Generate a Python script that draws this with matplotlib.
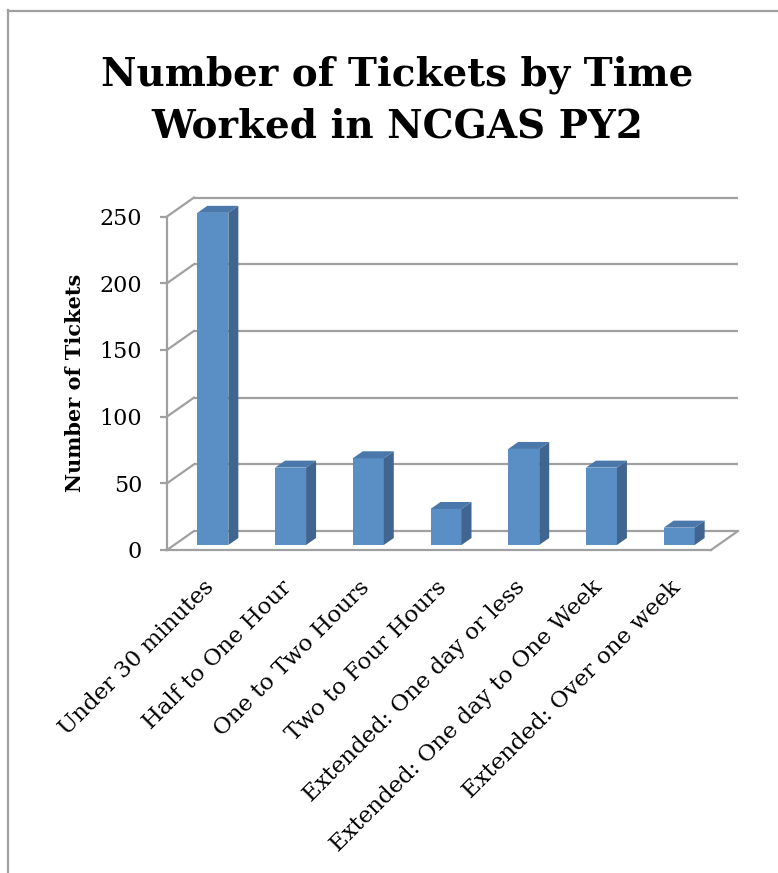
import matplotlib
matplotlib.use('Agg')
import matplotlib.pyplot as plt
from matplotlib.patches import Polygon
from matplotlib.transforms import ScaledTranslation
from matplotlib.lines import Line2D

categories = ["Under 30 minutes", "Half to One Hour", "One to Two Hours",
              "Two to Four Hours", "Extended: One day or less",
              "Extended: One day to One Week", "Extended: Over one week"]
tickets = [249, 58, 65, 27, 72, 58, 13]
y_ticks = [0, 50, 100, 150, 200, 250]
title_lines = ["Number of Tickets by Time", "Worked in NCGAS PY2"]
y_label = "Number of Tickets"

DPI = 100
W, H = 778, 873
FONT = ['DejaVu Serif']
GRID = '#a0a0a0'
FRONT = '#5a8fc6'
SIDE = '#3f6590'
TOP = '#4a78ab'

fig = plt.figure(figsize=(W / DPI, H / DPI), dpi=DPI)
fig.patch.set_facecolor('white')

# front plane of the 3-D box, in pixels
ax_l, ax_r, ax_b, ax_t = 167, 711, 550, 216.5
ax = fig.add_axes([ax_l / W, 1 - ax_b / H, (ax_r - ax_l) / W, (ax_b - ax_t) / H])
ax.set_xlim(-0.5, len(categories) - 0.5)
ax.set_ylim(0, 250)
ax.patch.set_alpha(0)


def off(dx, dy):
    return ax.transData + ScaledTranslation(dx / DPI, dy / DPI, fig.dpi_scale_trans)


p0 = ax.transData.transform((0, 0))
p1 = ax.transData.transform((1, 1))
ux = p1[0] - p0[0]
uy = p1[1] - p0[1]

BACK = (27, 19)   # back wall offset (px)
BARP = (7, 5)     # bar plane offset (px)
back = off(*BACK)
xlo, xhi = ax.get_xlim()
for v in y_ticks:
    ax.plot([xlo, xhi], [v, v], color=GRID, lw=1.6, transform=back,
            clip_on=False, zorder=1, solid_capstyle='butt')
    ax.plot([xlo, xlo + BACK[0] / ux], [v, v + BACK[1] / uy], color=GRID,
            lw=1.6, clip_on=False, zorder=1)
ax.plot([xhi, xhi + BACK[0] / ux], [0, BACK[1] / uy], color=GRID, lw=1.6,
        clip_on=False, zorder=1)

# bars
xs = list(range(len(categories)))
bw = 31 / ux
ddx = 10 / ux
ddy = 7 / uy
bt = off(*BARP)
bars = ax.bar(xs, tickets, width=bw, color=FRONT, linewidth=0, zorder=3)
for b in bars:
    b.set_transform(bt)
    b.set_clip_on(False)
for x, v in zip(xs, tickets):
    r = x + bw / 2
    l = x - bw / 2
    side = Polygon([(r, 0), (r + ddx, ddy), (r + ddx, v + ddy), (r, v)],
                   closed=True, facecolor=SIDE, edgecolor='none',
                   transform=bt, zorder=3, clip_on=False)
    top = Polygon([(l, v), (l + ddx, v + ddy), (r + ddx, v + ddy), (r, v)],
                  closed=True, facecolor=TOP, edgecolor='none',
                  transform=bt, zorder=3, clip_on=False)
    ax.add_patch(side)
    ax.add_patch(top)

ax.set_xlim(-0.5, len(categories) - 0.5)
ax.set_ylim(0, 250)

# spines / ticks
for s in ['top', 'right']:
    ax.spines[s].set_visible(False)
for s in ['left', 'bottom']:
    ax.spines[s].set_color(GRID)
    ax.spines[s].set_linewidth(1.6)
    ax.spines[s].set_zorder(4)
ax.set_yticks(y_ticks)
ax.set_yticklabels([str(t) for t in y_ticks], fontfamily=FONT, fontsize=16)
ax.tick_params(axis='y', direction='out', length=5, width=1.6, color=GRID,
               pad=13, labelcolor='black')
ax.set_xticks(xs)
ax.set_xticklabels(categories, fontfamily=FONT, fontsize=16.5, rotation=45,
                   ha='right', va='top', rotation_mode='anchor')
ax.tick_params(axis='x', length=0, pad=19)
for lab in ax.get_xticklabels():
    lab.set_transform(lab.get_transform() +
                      ScaledTranslation(-3 / DPI, 0, fig.dpi_scale_trans))

# title and y label
fig.text(397 / W, 1 - 85 / H, title_lines[0], ha='center', va='baseline',
         fontsize=28, fontweight='bold', fontfamily=FONT)
fig.text(397 / W, 1 - 138 / H, title_lines[1], ha='center', va='baseline',
         fontsize=28, fontweight='bold', fontfamily=FONT)
fig.text(75 / W, 1 - 383 / H, y_label, rotation=90, ha='center', va='center',
         fontsize=15, fontweight='bold', fontfamily=FONT)

# outer frame
fig.add_artist(Line2D([8 / W, 8 / W], [1 - 10 / H, 0], color=GRID, lw=1.6,
                      transform=fig.transFigure))
fig.add_artist(Line2D([8 / W, 1], [1 - 10.5 / H, 1 - 10.5 / H], color=GRID,
                      lw=1.6, transform=fig.transFigure))

fig.savefig('out.png', dpi=DPI, facecolor='white')
